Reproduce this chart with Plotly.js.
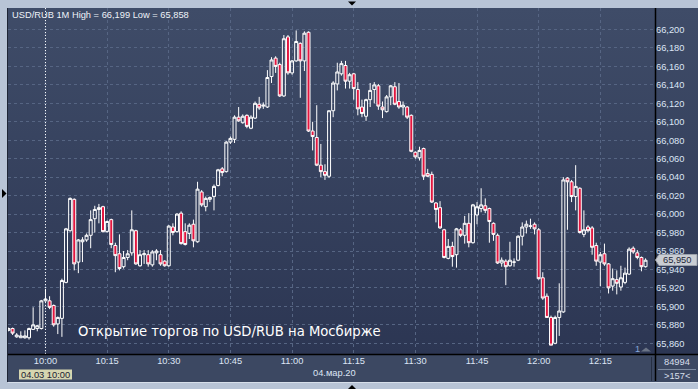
<!DOCTYPE html>
<html><head><meta charset="utf-8">
<script src="https://cdn.plot.ly/plotly-3.0.1.min.js"></script>
<style>
html,body{margin:0;padding:0;background:#b8c4d6;width:698px;height:389px;overflow:hidden;}
#wrap{position:relative;width:698px;height:389px;}
#bgPlot{position:absolute;left:8px;top:8px;width:690px;height:346px;background:linear-gradient(#3f4c68,#2c3653);}
#bgX{position:absolute;left:8px;top:355px;width:690px;height:27px;background:#3c4862;}
#chart{position:absolute;left:0;top:0;width:698px;height:389px;}
</style></head>
<body><div id="wrap"><div id="bgPlot"></div><div id="bgX"></div><div id="chart"></div></div>
<script>
const dateStr = '2020-03-04';
const times = [
"09:51","09:52","09:53","09:54","09:55","09:56","09:57","09:58","09:59",
"10:00","10:01","10:02","10:03","10:04","10:05","10:06","10:07","10:08","10:09",
"10:10","10:11","10:12","10:13","10:14","10:15","10:16","10:17","10:18","10:19",
"10:20","10:21","10:22","10:23","10:24","10:25","10:26","10:27","10:28","10:29",
"10:30","10:31","10:32","10:33","10:34","10:35","10:36","10:37","10:38","10:39",
"10:40","10:41","10:42","10:43","10:44","10:45","10:46","10:47","10:48","10:49",
"10:50","10:51","10:52","10:53","10:54","10:55","10:56","10:57","10:58","10:59",
"11:00","11:01","11:02","11:03","11:04","11:05","11:06","11:07","11:08","11:09",
"11:10","11:11","11:12","11:13","11:14","11:15","11:16","11:17","11:18","11:19",
"11:20","11:21","11:22","11:23","11:24","11:25","11:26","11:27","11:28","11:29",
"11:30","11:31","11:32","11:33","11:34","11:35","11:36","11:37","11:38","11:39",
"11:40","11:41","11:42","11:43","11:44","11:45","11:46","11:47","11:48","11:49",
"11:50","11:51","11:52","11:53","11:54","11:55","11:56","11:57","11:58","11:59",
"12:00","12:01","12:02","12:03","12:04","12:05","12:06","12:07","12:08","12:09",
"12:10","12:11","12:12","12:13","12:14","12:15","12:16","12:17","12:18","12:19",
"12:20","12:21","12:22","12:23","12:24","12:25","12:26"];
const openP = [
65.874,65.876,65.867,65.866,65.866,65.866,65.875,65.876,65.876,65.906,
65.906,65.901,65.881,65.887,65.926,65.982,66.016,65.948,65.970,65.972,
65.977,65.995,66.005,66.008,65.981,65.994,65.966,65.957,65.943,65.953,
65.958,65.982,65.944,65.956,65.956,65.945,65.958,65.956,65.949,65.944,
65.986,65.981,66.001,65.981,65.979,65.989,65.970,66.024,66.008,66.016,
66.019,66.031,66.049,66.046,66.078,66.081,66.105,66.099,66.107,66.093,
66.104,66.119,66.117,66.116,66.149,66.169,66.162,66.128,66.192,66.153,
66.166,66.185,66.166,66.197,66.090,66.083,66.053,66.046,66.041,66.112,
66.141,66.152,66.161,66.144,66.152,66.135,66.116,66.106,66.124,66.135,
66.139,66.116,66.111,66.127,66.138,66.122,66.116,66.116,66.107,66.067,
66.061,66.071,66.044,66.043,66.012,66.007,65.983,65.952,65.965,65.956,
65.983,65.977,65.990,65.969,65.999,66.006,66.009,66.006,65.990,65.977,
65.947,65.949,65.944,65.948,65.950,65.976,65.986,65.987,65.989,65.983,
65.931,65.911,65.888,65.860,65.888,65.894,66.039,66.035,66.019,66.028,
65.978,65.986,65.985,65.966,65.948,65.957,65.946,65.922,65.929,65.921,
65.926,65.935,65.963,65.958,65.953,65.943];
const highP = [
65.877,65.877,65.871,65.873,65.874,65.877,65.899,65.880,65.907,65.919,
65.911,65.902,65.889,65.930,65.985,66.018,66.017,65.973,65.975,65.979,
66.004,66.009,66.011,66.009,65.993,65.995,65.969,65.978,65.960,65.961,
66.004,65.983,65.961,65.961,65.961,65.961,65.962,65.961,65.950,65.988,
65.990,66.001,66.003,65.990,65.990,65.994,66.035,66.026,66.019,66.019,
66.032,66.049,66.051,66.079,66.084,66.107,66.116,66.108,66.108,66.107,
66.122,66.127,66.121,66.156,66.170,66.171,66.164,66.194,66.194,66.167,
66.199,66.186,66.198,66.198,66.100,66.118,66.076,66.054,66.112,66.144,
66.164,66.166,66.166,66.153,66.153,66.143,66.124,66.125,66.142,66.143,
66.141,66.122,66.129,66.140,66.143,66.142,66.122,66.117,66.108,66.068,
66.073,66.072,66.049,66.046,66.013,66.014,65.984,65.973,65.970,65.985,
65.985,65.998,66.001,66.011,66.013,66.028,66.017,66.007,65.991,65.979,
65.953,65.951,65.970,65.952,65.977,65.991,65.993,65.995,65.991,65.985,
65.937,65.914,65.890,65.890,65.925,66.040,66.040,66.037,66.053,66.029,
66.004,65.988,65.987,65.969,65.959,65.968,65.947,65.941,65.939,65.944,
65.942,65.964,65.965,65.961,65.954,65.952];
const lowP = [
65.873,65.869,65.866,65.866,65.865,65.864,65.875,65.873,65.875,65.905,
65.897,65.878,65.870,65.867,65.925,65.981,65.939,65.936,65.948,65.970,
65.963,65.980,65.990,65.980,65.980,65.963,65.937,65.939,65.941,65.950,
65.955,65.945,65.943,65.946,65.943,65.943,65.950,65.944,65.943,65.943,
65.977,65.980,65.967,65.966,65.973,65.964,65.969,66.008,66.003,66.013,
66.004,66.030,66.041,66.045,66.076,66.077,66.100,66.098,66.093,66.092,
66.103,66.113,66.114,66.115,66.142,66.153,66.127,66.127,66.151,66.151,
66.165,66.126,66.155,66.089,66.069,66.052,66.040,66.037,66.039,66.105,
66.134,66.150,66.136,66.136,66.124,66.107,66.105,66.101,66.116,66.120,
66.113,66.104,66.110,66.118,66.118,66.114,66.107,66.103,66.067,66.060,
66.058,66.037,66.040,66.012,65.991,65.984,65.952,65.951,65.943,65.942,
65.975,65.968,65.964,65.968,65.989,66.002,66.001,65.969,65.971,65.946,
65.943,65.923,65.943,65.943,65.949,65.966,65.979,65.984,65.978,65.929,
65.907,65.888,65.858,65.859,65.868,65.893,65.983,66.013,66.004,65.979,
65.975,65.980,65.956,65.944,65.922,65.944,65.914,65.917,65.913,65.917,
65.924,65.934,65.957,65.951,65.938,65.942];
const closeP = [
65.876,65.871,65.869,65.868,65.868,65.876,65.880,65.879,65.906,65.908,
65.899,65.880,65.888,65.928,65.984,66.017,65.946,65.972,65.972,65.977,
65.994,66.005,66.007,65.981,65.992,65.967,65.955,65.941,65.953,65.957,
65.983,65.946,65.956,65.957,65.946,65.959,65.960,65.946,65.944,65.987,
65.980,66.000,65.968,65.967,65.988,65.971,66.027,66.010,66.017,66.018,
66.030,66.048,66.045,66.078,66.082,66.105,66.101,66.106,66.095,66.105,
66.120,66.115,66.118,66.148,66.167,66.160,66.128,66.190,66.153,66.166,
66.187,66.166,66.196,66.090,66.084,66.053,66.046,66.042,66.112,66.142,
66.154,66.163,66.144,66.151,66.136,66.114,66.109,66.124,66.134,66.140,
66.117,66.113,66.127,66.139,66.119,66.116,66.118,66.105,66.068,66.062,
66.069,66.041,66.041,66.013,66.005,65.985,65.953,65.965,65.954,65.984,
65.977,65.990,65.969,66.010,66.008,66.010,66.004,65.992,65.978,65.947,
65.950,65.943,65.950,65.948,65.976,65.986,65.989,65.987,65.984,65.930,
65.909,65.888,65.858,65.888,65.895,66.037,66.035,66.019,66.030,65.980,
65.983,65.982,65.964,65.949,65.956,65.946,65.920,65.930,65.925,65.931,
65.936,65.962,65.959,65.953,65.943,65.950];
const tickTimes = ["10:00","10:15","10:30","10:45","11:00","11:15","11:30","11:45","12:00","12:15"];
const priceTicks = [65.86,65.88,65.90,65.92,65.94,65.96,65.98,66.00,66.02,66.04,66.06,66.08,66.10,66.12,66.14,66.16,66.18,66.20];
const xRange = ["09:50:53","12:28:18"];
const yRange = [65.8484, 66.2233];
const lastPrice = "65,950";
const lastPriceValue = 65.950;
const headerText = "USD/RUB 1M High = 66,199 Low = 65,858";
const noteText = "Открытие торгов по USD/RUB на Мосбирже";
const dateLabel = "04.мар.20";
const cursorLabel = "04.03 10:00";
const cursorTime = "10:00";
const counterTop = "84994";
const counterBottom = ">157<";

const W=698,H=389,L=8,R=43,T=8,B=35;
const pw=W-L-R, ph=H-T-B;
const fx = p => (p-L)/pw;
const fy = p => (H-B-p)/ph;
const path = pts => 'M' + pts.map(p => fx(p[0]).toFixed(5)+','+fy(p[1]).toFixed(5)).join('L') + 'Z';
const ts = t => dateStr + ' ' + t;
const FONT = 'Liberation Sans, Arial, sans-serif';
const FS = 9.3;
const gridC = '#566583';
const txtC = '#dce5f5';

const trace = {
  type:'candlestick',
  x: times.map(ts), open: openP, high: highP, low: lowP, close: closeP,
  increasing:{line:{color:'#ffffff', width:1}, fillcolor:'rgba(0,0,0,0)'},
  decreasing:{line:{color:'#ffffff', width:1}, fillcolor:'#e3163f'},
  whiskerwidth:0, hoverinfo:'skip', showlegend:false
};

const lay = {
  width:W, height:H, margin:{l:L,r:R,t:T,b:B,pad:0},
  paper_bgcolor:'rgba(0,0,0,0)', plot_bgcolor:'rgba(0,0,0,0)',
  separators:', ', showlegend:false, hovermode:false,
  boxgap:0.15, boxgroupgap:0.15,
  font:{family:FONT, size:FS, color:txtC},
  xaxis:{type:'date', range:xRange.map(ts), rangeslider:{visible:false},
    tickvals: tickTimes.map(ts), ticktext: tickTimes,
    showgrid:true, gridcolor:gridC, griddash:'3px,3px', gridwidth:1,
    zeroline:false, showline:false, ticks:'', tickfont:{family:FONT,size:FS,color:txtC}},
  yaxis:{range:yRange, side:'right', tickvals:priceTicks, tickformat:'.3f',
    showgrid:true, gridcolor:gridC, griddash:'3px,3px', gridwidth:1,
    zeroline:false, showline:false, ticks:'', tickfont:{family:FONT,size:FS,color:txtC}},
  shapes:[
    {type:'line', xref:'x', yref:'paper', x0:ts(cursorTime), x1:ts(cursorTime), y0:0, y1:1, line:{color:'#ffffff', width:1, dash:'1px,2px'}},
    {type:'line', xref:'paper', yref:'paper', x0:fx(655.5), x1:fx(655.5), y0:fy(381), y1:fy(8), line:{color:'#000000', width:1.5}},
    {type:'line', xref:'paper', yref:'paper', x0:fx(8), x1:fx(698), y0:fy(354.5), y1:fy(354.5), line:{color:'#000000', width:1.5}},
    {type:'line', xref:'paper', yref:'paper', x0:fx(7.5), x1:fx(7.5), y0:fy(8), y1:fy(382), line:{color:'#1e2535', width:1}},
    {type:'line', xref:'paper', yref:'paper', x0:fx(8), x1:fx(698), y0:fy(382.5), y1:fy(382.5), line:{color:'#d7dfea', width:1}},
    {type:'line', xref:'paper', yref:'paper', x0:fx(651.5), x1:fx(651.5), y0:fy(357), y1:fy(381), line:{color:'#262f42', width:1}},
    {type:'line', xref:'paper', yref:'paper', x0:fx(658), x1:fx(696), y0:fy(369.5), y1:fy(369.5), line:{color:'#7d8aa0', width:1}},
    {type:'path', xref:'paper', yref:'paper', path:path([[655.5,260],[659,254.5],[697,254.5],[697,265.5],[659,265.5]]), fillcolor:'#c9cdd3', line:{color:'#9aa0aa', width:1}},
    {type:'path', xref:'paper', yref:'paper', path:path([[2,189],[6.5,193.5],[2,198]]), fillcolor:'#000', line:{width:0}},
    {type:'path', xref:'paper', yref:'paper', path:path([[348,1.5],[356,1.5],[352,5.5]]), fillcolor:'#000', line:{width:0}},
    {type:'path', xref:'paper', yref:'paper', path:path([[348,389],[356,389],[352,385]]), fillcolor:'#000', line:{width:0}},
    {type:'path', xref:'paper', yref:'paper', path:path([[641,351.5],[651,351.5],[646,347.5]]), fillcolor:'#6b7486', line:{width:0}},
    {type:'rect', xref:'paper', yref:'paper', x0:fx(19), x1:fx(72), y0:fy(379.5), y1:fy(369.5), fillcolor:'#d6d6b0', line:{width:0}}
  ],
  annotations:[
    {xref:'paper', yref:'paper', x:fx(10), y:fy(14.7), xanchor:'left', yanchor:'middle', showarrow:false, text:headerText, font:{family:FONT, size:FS, color:'#eef2f8'}},
    {xref:'paper', yref:'paper', x:fx(76), y:fy(331), xanchor:'left', yanchor:'middle', showarrow:false, text:noteText, font:{family:'DejaVu Sans, sans-serif', size:13.2, color:'#ffffff'}},
    {xref:'paper', yref:'paper', x:fx(334), y:fy(373), xanchor:'center', yanchor:'middle', showarrow:false, text:dateLabel, font:{family:FONT, size:FS, color:txtC}},
    {xref:'paper', yref:'paper', x:fx(45.5), y:fy(374.5), xanchor:'center', yanchor:'middle', showarrow:false, text:cursorLabel, font:{family:FONT, size:FS, color:'#1b2233'}},
    {xref:'paper', yref:'y', x:fx(677), y:lastPriceValue, xanchor:'center', yanchor:'middle', showarrow:false, text:lastPrice, font:{family:FONT, size:FS, color:'#1f2838'}},
    {xref:'paper', yref:'paper', x:fx(677), y:fy(361.5), xanchor:'center', yanchor:'middle', showarrow:false, text:counterTop, font:{family:FONT, size:FS, color:'#d6deeb'}},
    {xref:'paper', yref:'paper', x:fx(677), y:fy(375.5), xanchor:'center', yanchor:'middle', showarrow:false, text:counterBottom, font:{family:FONT, size:FS, color:'#d6deeb'}},
    {xref:'paper', yref:'paper', x:fx(637), y:fy(349), xanchor:'center', yanchor:'middle', showarrow:false, text:'1', font:{family:FONT, size:FS, color:'#86a8dc'}}
  ]
};
Plotly.newPlot('chart', [trace], lay, {staticPlot:true, displayModeBar:false});
</script></body></html>
